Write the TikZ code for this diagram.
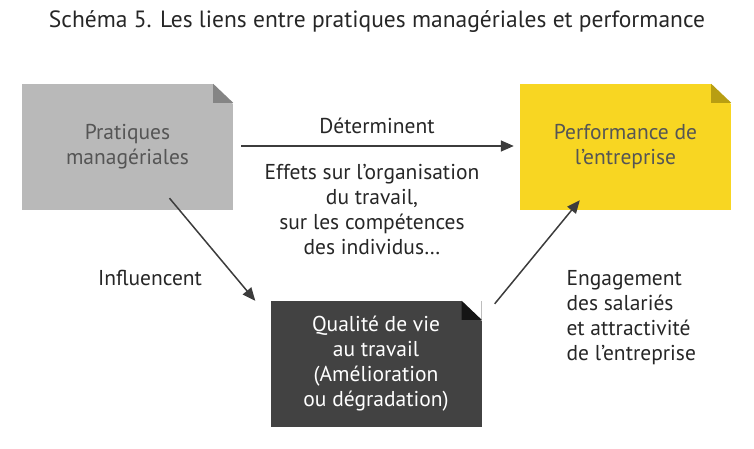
\documentclass[tikz,border=0pt]{standalone}
\usepackage{fontspec}
\setmainfont{PT Sans}
\usepackage{tikz}
\usetikzlibrary{arrows.meta,positioning,calc}
\definecolor{grisbg}{HTML}{B9B9B9}
\definecolor{grisfold}{HTML}{858585}
\definecolor{jaunebg}{HTML}{F8D622}
\definecolor{jaunefold}{HTML}{B89E12}
\definecolor{noirbg}{HTML}{424242}
\definecolor{noirfold}{HTML}{151515}
\definecolor{txtgris}{HTML}{555555}
\definecolor{fleche}{HTML}{3C3C3C}
\tikzset{
  foldbox/.style = {fill=#1, align=center, minimum width=211pt, minimum height=126pt,
                    inner sep=0pt, font=\fontsize{21.5}{25}\selectfont, text=txtgris,
                    path picture={
                      \fill[white] (path picture bounding box.north east) -- ++(-20pt,0)
                        -- ++(20pt,-20pt) -- cycle;
                    }},
  fold/.style  = {fill=#1},
  ar/.style    = {-{Triangle[length=13pt,width=11pt]}, line width=1.5pt, draw=fleche},
  lbl/.style   = {font=\fontsize{21.5}{25}\selectfont, text=black!85, align=center},
}
\newcommand{\pli}[2]{%
  \fill[fold=#2] ($(#1.north east)+(-20pt,0)$) -- ($(#1.north east)+(-20pt,-19pt)$)
    -- ($(#1.north east)+(0,-19pt)$) -- cycle;}

\begin{document}
\begin{tikzpicture}[x=1pt,y=-1pt]
  \useasboundingbox (0,0) rectangle (754,449);
  \node[font=\fontsize{23.5}{26}\selectfont, text=black!85] (titre) at (377,22)
    {Schéma 5. Les liens entre pratiques managériales et performance};

  % les trois cadres
  \node[foldbox=grisbg] (prat) at (127.5,147) {Pratiques\\managériales};
  \node[foldbox=jaunebg] (perf) at (625.5,147) {Performance de\\l’entreprise};
  \node[foldbox=noirbg, text=white] (qvt) at (376,364)
    {Qualité de vie\\au travail\\(Amélioration\\ou dégradation)};
  \pli{prat}{grisfold} \pli{perf}{jaunefold} \pli{qvt}{noirfold}

  % fleches
  \coordinate (d1) at ($(prat.east)+(8pt,1pt)$);
  \coordinate (d2) at ($(perf.west)+(-6pt,1pt)$);
  \draw[ar] (d1) -- (d2);
  \coordinate (i1) at ($(prat.south)+(42pt,12pt)$);
  \coordinate (i2) at ($(qvt.north west)+(-15pt,0)$);
  \draw[ar] (i1) -- (i2);
  \coordinate (e1) at ($(qvt.north east)+(13pt,-3pt)$);
  \coordinate (e2) at ($(perf.south west)+(60pt,10pt)$);
  \draw[ar] (e1) -- (e2);

  % etiquettes
  \node[lbl] (det) at (377,126) {Déterminent};
  \node[lbl] (effets) at (372,210) {Effets sur l’organisation\\du travail,\\sur les compétences\\des individus…};
  \node[lbl] (infl) at (150,278) {Influencent};
  \node[lbl, align=left, anchor=west] (eng) at (563,318) {Engagement\\des salariés\\et attractivité\\de l’entreprise};
\end{tikzpicture}
\end{document}
